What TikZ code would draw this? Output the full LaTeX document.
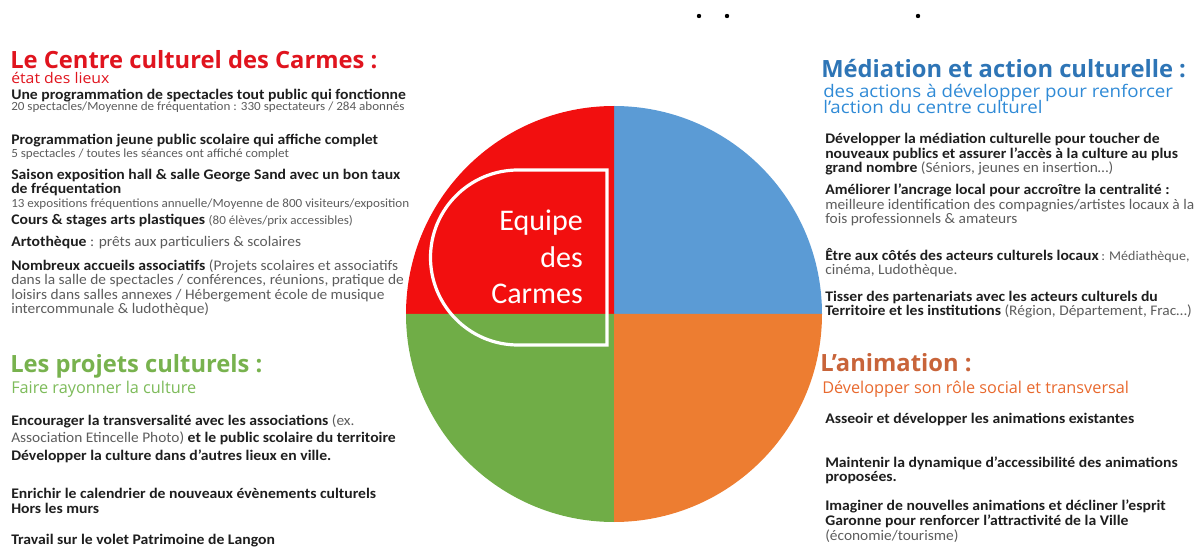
\documentclass[tikz,border=0pt]{standalone}
\usepackage{fontspec}
\setmainfont{Carlito}
\newfontfamily\bodyfont{Carlito}[UprightFeatures={FakeStretch=1.05}, BoldFeatures={FakeStretch=1.07}]
\newfontfamily\headfont{Open Sans}
\newfontfamily\headwide{Open Sans}[FakeStretch=1.08]
\usetikzlibrary{positioning}

\definecolor{pieRed}{HTML}{F20F0F}
\definecolor{pieBlue}{HTML}{5B9BD5}
\definecolor{pieGreen}{HTML}{70AD47}
\definecolor{pieOrange}{HTML}{ED7D31}
\definecolor{redHead}{HTML}{E0141E}
\definecolor{blueHead}{HTML}{2E75B6}
\definecolor{blueSub}{HTML}{2F8AD6}
\definecolor{greenHead}{HTML}{78B24E}
\definecolor{greenSub}{HTML}{7DBB5A}
\definecolor{orangeHead}{HTML}{C8643A}
\definecolor{orangeSub}{HTML}{E8692E}
\definecolor{ink}{HTML}{1E1E1E}
\definecolor{soft}{HTML}{5C5C5C}

\newcommand{\tightlines}{\lineskiplimit=-\maxdimen}

\begin{document}
\begin{tikzpicture}[
  x=0.75pt, y=-0.75pt,
  % multi-line nodes sit on the baseline of their last line
  title/.style    = {anchor=base west, inner sep=0pt, font=\headfont\bfseries\fontsize{17.8}{20}\selectfont},
  subtitle/.style = {anchor=base west, inner sep=0pt, align=left, font=\headfont\fontsize{12.2}{12}\selectfont\tightlines},
  item/.style     = {anchor=base west, inner sep=0pt, align=left, text=ink, font=\bodyfont\fontsize{11}{10.9}\selectfont\tightlines},
  lead/.style     = {item, font=\bodyfont\bfseries\fontsize{11}{10.9}\selectfont\tightlines},
  note/.style     = {anchor=base west, inner sep=0pt, text=soft, font=\bodyfont\fontsize{9.35}{9}\selectfont},
]
\useasboundingbox (0,0) rectangle (1197,552);

%── Pie ───────────────────────────────────────────────────────────────────────
\coordinate (hub) at (614,314);
\fill[pieBlue]   (hub) -- ++(208,0)  arc[start angle=0,   end angle=-90,  radius=208] -- cycle;
\fill[pieRed]    (hub) -- ++(0,-208) arc[start angle=-90, end angle=-180, radius=208] -- cycle;
\fill[pieGreen]  (hub) -- ++(-208,0) arc[start angle=180, end angle=90,   radius=208] -- cycle;
\fill[pieOrange] (hub) -- ++(0,208)  arc[start angle=90,  end angle=0,    radius=208] -- cycle;

% team badge
\draw[white, line width=2.4pt] (607,170) -- (518,170)
  arc[start angle=-90, end angle=-270, radius=87.5] -- (607,345) -- cycle;
\node[anchor=base east, inner sep=0pt, align=right, text=white,
      font=\fontsize{22.5}{27.4}\selectfont] (team) at (583,304) {Equipe\\des\\Carmes};

% stray marks at the top
\fill (699,16) circle (2.2);
\fill (727,16) circle (2.2);
\fill (918,16) circle (2.2);

%── Top left: Centre culturel ─────────────────────────────────────────────────
\node[title, text=redHead]    (carmesT) at (10,69) {Le Centre culturel des Carmes :};
\node[subtitle, text=redHead, font=\headwide\fontsize{11}{12}\selectfont]
                              (carmesS) at (11,84) {état des lieux};
\node[lead]                   (prog)    at (11,100) {Une programmation de spectacles tout public qui fonctionne};
\node[note]                   (progN)   at (11,111) {20 spectacles/Moyenne de fréquentation : 330 spectateurs / 284 abonnés};
\node[lead]                   (jeune)   at (11,145) {Programmation jeune public scolaire qui affiche complet};
\node[note]                   (jeuneN)  at (11,158) {5 spectacles / toutes les séances ont affiché complet};
\node[lead]                   (expo)    at (11,194) {Saison exposition hall \& salle George Sand avec un bon taux\\de fréquentation};
\node[note]                   (expoN)   at (11,208) {13 expositions fréquentions annuelle/Moyenne de 800 visiteurs/exposition};
\node[item]                   (cours)   at (11,225) {\textbf{Cours \& stages arts plastiques} {\fontsize{9.35}{9}\selectfont\color{soft}(80 élèves/prix accessibles)}};
\node[item]                   (arto)    at (11,247) {\textbf{Artothèque} \textcolor{soft}{: prêts aux particuliers \& scolaires}};
\node[item]                   (assoc)   at (11,314) {\textbf{Nombreux accueils associatifs} \textcolor{soft}{(Projets scolaires et associatifs}\\
  \textcolor{soft}{dans la salle de spectacles / conférences, réunions, pratique de}\\
  \textcolor{soft}{loisirs dans salles annexes / Hébergement école de musique}\\
  \textcolor{soft}{intercommunale \& ludothèque)}};

%── Bottom left: projets culturels ────────────────────────────────────────────
\node[title, text=greenHead]  (projT)   at (10,373) {Les projets culturels :};
\node[subtitle, text=greenSub](projS)   at (11,394) {Faire rayonner la culture};
\node[item]                   (transv)  at (11,426) {\textbf{Encourager la transversalité avec les associations} \textcolor{soft}{(ex.}};
\node[item]                   (transvB) at (11,443) {\textcolor{soft}{Association Etincelle Photo)} \textbf{et le public scolaire du territoire}};
\node[lead]                   (lieux)   at (11,460) {Développer la culture dans d’autres lieux en ville.};
\node[lead]                   (murs)    at (11,513) {Enrichir le calendrier de nouveaux évènements culturels\\Hors les murs};
\node[lead]                   (patri)   at (11,544) {Travail sur le volet Patrimoine de Langon};

%── Top right: médiation ──────────────────────────────────────────────────────
\node[title, text=blueHead]   (medT)    at (821,78) {Médiation et action culturelle :};
\node[subtitle, text=blueSub, font=\headwide\fontsize{13}{12.2}\selectfont\tightlines]
                              (medS)    at (823,114) {des actions à développer pour renforcer\\l’action du centre culturel};
\node[item]                   (publics) at (825,173) {\textbf{Développer la médiation culturelle pour toucher de}\\
  \textbf{nouveaux publics et assurer l’accès à la culture au plus}\\
  \textbf{grand nombre} \textcolor{soft}{(Séniors, jeunes en insertion…)}};
\node[item]                   (ancrage) at (825,224) {\textbf{Améliorer l’ancrage local pour accroître la centralité :}\\
  \textcolor{soft}{meilleure identification des compagnies/artistes locaux à la}\\
  \textcolor{soft}{fois professionnels \& amateurs}};
\node[item]                   (acteurs) at (825,275) {\textbf{Être aux côtés des acteurs culturels locaux}\,{\fontsize{10}{10.9}\selectfont\color{soft}: Médiathèque,}\\
  \textcolor{soft}{cinéma, Ludothèque.}};
\node[item]                   (parten)  at (825,316) {\textbf{Tisser des partenariats avec les acteurs culturels du}\\
  \textbf{Territoire et les institutions} \textcolor{soft}{(Région, Département, Frac…)}};

%── Bottom right: animation ───────────────────────────────────────────────────
\node[title, text=orangeHead] (animT)   at (820,372) {L’animation :};
\node[subtitle, text=orangeSub](animS)  at (822,394) {Développer son rôle social et transversal};
\node[lead]                   (asseoir) at (825,424) {Asseoir et développer les animations existantes};
\node[lead]                   (access)  at (825,482) {Maintenir la dynamique d’accessibilité des animations\\proposées.};
\node[item]                   (garonne) at (825,540) {\textbf{Imaginer de nouvelles animations et décliner l’esprit}\\
  \textbf{Garonne pour renforcer l’attractivité de la Ville}\\
  \textcolor{soft}{(économie/tourisme)}};

\end{tikzpicture}
\end{document}
